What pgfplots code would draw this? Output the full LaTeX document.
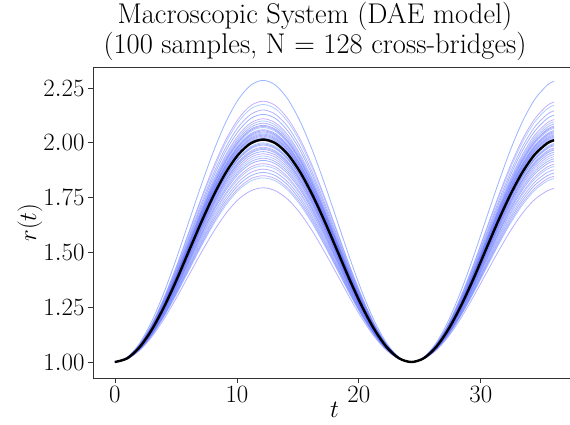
\documentclass[border=0pt]{standalone}
\usepackage{pgfplots}
\pgfplotsset{compat=1.18}
\usepackage{pgfplotstable}

\definecolor{cA}{rgb}{0.22,0.42,1.0}
\definecolor{cB}{rgb}{0.55,0.36,1.0}
\definecolor{cC}{rgb}{0.35,0.62,1.0}
\definecolor{cD}{rgb}{0.42,0.38,1.0}

\pgfplotstableread{
t c1 c2 c3 c4 c5 c6 c7 c8 c9 c10 c11 c12 c13 c14 c15 c16 c17 c18 c19 c20 c21 c22 c23 c24 c25 c26 c27 c28 c29 c30 c31 c32 c33 c34 c35 c36 c37 c38 c39 c40 m
0 1 1 1 1 1 1 1 1 1 1 1 1 1 1 1 1 1 1 1 1 1 1 1 1 1 1 1 1 1 1 1 1 1 1 1 1 1 1 1 1 1
1.0125 1.022 1.020 1.020 1.020 1.019 1.019 1.019 1.019 1.018 1.018 1.018 1.018 1.018 1.018 1.018 1.018 1.018 1.018 1.017 1.017 1.017 1.017 1.017 1.017 1.017 1.017 1.017 1.017 1.016 1.016 1.016 1.016 1.016 1.015 1.015 1.015 1.015 1.014 1.014 1.014 1.017
2.025 1.086 1.080 1.079 1.077 1.076 1.074 1.074 1.073 1.072 1.072 1.072 1.071 1.071 1.070 1.070 1.070 1.069 1.069 1.069 1.068 1.068 1.068 1.067 1.067 1.066 1.066 1.065 1.065 1.064 1.064 1.063 1.062 1.062 1.061 1.060 1.059 1.058 1.057 1.056 1.053 1.068
3.0375 1.188 1.174 1.172 1.168 1.165 1.163 1.161 1.160 1.158 1.157 1.157 1.155 1.155 1.154 1.153 1.152 1.152 1.151 1.150 1.149 1.149 1.148 1.146 1.146 1.145 1.144 1.143 1.142 1.141 1.139 1.138 1.136 1.135 1.133 1.131 1.129 1.127 1.124 1.123 1.116 1.149
4.05 1.321 1.298 1.294 1.288 1.283 1.278 1.275 1.273 1.270 1.269 1.268 1.265 1.264 1.263 1.261 1.260 1.259 1.258 1.256 1.255 1.254 1.253 1.250 1.249 1.248 1.245 1.244 1.243 1.240 1.238 1.235 1.233 1.230 1.226 1.224 1.220 1.216 1.213 1.210 1.199 1.254
5.0625 1.476 1.440 1.435 1.426 1.419 1.411 1.408 1.404 1.400 1.398 1.397 1.393 1.391 1.389 1.387 1.385 1.384 1.382 1.380 1.378 1.376 1.374 1.371 1.369 1.367 1.363 1.361 1.359 1.356 1.352 1.348 1.345 1.341 1.335 1.332 1.326 1.321 1.315 1.311 1.295 1.376
6.075 1.643 1.595 1.588 1.575 1.565 1.555 1.550 1.545 1.540 1.538 1.535 1.530 1.528 1.525 1.523 1.520 1.518 1.515 1.513 1.510 1.508 1.505 1.500 1.498 1.495 1.490 1.488 1.485 1.480 1.475 1.470 1.465 1.460 1.453 1.448 1.440 1.433 1.425 1.420 1.398 1.508
7.0875 1.809 1.749 1.740 1.724 1.711 1.699 1.692 1.686 1.680 1.677 1.673 1.667 1.664 1.661 1.658 1.655 1.651 1.648 1.645 1.642 1.639 1.636 1.629 1.626 1.623 1.617 1.614 1.611 1.604 1.598 1.592 1.585 1.579 1.570 1.563 1.554 1.544 1.535 1.529 1.500 1.639
8.1 1.964 1.893 1.881 1.863 1.848 1.833 1.825 1.818 1.810 1.806 1.803 1.795 1.791 1.788 1.784 1.780 1.776 1.773 1.769 1.765 1.761 1.758 1.750 1.746 1.743 1.735 1.731 1.728 1.720 1.713 1.705 1.698 1.690 1.679 1.671 1.660 1.649 1.638 1.630 1.596 1.761
9.1125 2.097 2.016 2.003 1.982 1.965 1.947 1.939 1.930 1.922 1.918 1.913 1.905 1.900 1.896 1.892 1.888 1.883 1.879 1.875 1.871 1.866 1.862 1.854 1.849 1.845 1.836 1.832 1.828 1.819 1.811 1.802 1.794 1.785 1.772 1.764 1.751 1.738 1.726 1.717 1.679 1.866
10.125 2.199 2.110 2.096 2.073 2.054 2.036 2.026 2.017 2.008 2.003 1.998 1.989 1.984 1.980 1.975 1.970 1.966 1.961 1.956 1.952 1.947 1.942 1.933 1.928 1.924 1.914 1.910 1.905 1.896 1.886 1.877 1.868 1.858 1.844 1.835 1.821 1.807 1.793 1.784 1.742 1.947
11.1375 2.263 2.170 2.155 2.130 2.111 2.091 2.081 2.071 2.062 2.057 2.052 2.042 2.037 2.032 2.027 2.022 2.017 2.012 2.008 2.003 1.998 1.993 1.983 1.978 1.973 1.963 1.958 1.953 1.944 1.934 1.924 1.914 1.904 1.890 1.880 1.865 1.850 1.836 1.826 1.781 1.998
12.15 2.285 2.190 2.175 2.150 2.130 2.110 2.100 2.090 2.080 2.075 2.070 2.060 2.055 2.050 2.045 2.040 2.035 2.030 2.025 2.020 2.015 2.010 2.000 1.995 1.990 1.980 1.975 1.970 1.960 1.950 1.940 1.930 1.920 1.905 1.895 1.880 1.865 1.850 1.840 1.795 2.015
13.1625 2.263 2.170 2.155 2.130 2.111 2.091 2.081 2.071 2.062 2.057 2.052 2.042 2.037 2.032 2.027 2.022 2.017 2.012 2.008 2.003 1.998 1.993 1.983 1.978 1.973 1.963 1.958 1.953 1.944 1.934 1.924 1.914 1.904 1.890 1.880 1.865 1.850 1.836 1.826 1.781 1.998
14.175 2.199 2.110 2.096 2.073 2.054 2.036 2.026 2.017 2.008 2.003 1.998 1.989 1.984 1.980 1.975 1.970 1.966 1.961 1.956 1.952 1.947 1.942 1.933 1.928 1.924 1.914 1.910 1.905 1.896 1.886 1.877 1.868 1.858 1.844 1.835 1.821 1.807 1.793 1.784 1.742 1.947
15.1875 2.097 2.016 2.003 1.982 1.965 1.947 1.939 1.930 1.922 1.918 1.913 1.905 1.900 1.896 1.892 1.888 1.883 1.879 1.875 1.871 1.866 1.862 1.854 1.849 1.845 1.836 1.832 1.828 1.819 1.811 1.802 1.794 1.785 1.772 1.764 1.751 1.738 1.726 1.717 1.679 1.866
16.2 1.964 1.893 1.881 1.863 1.848 1.833 1.825 1.818 1.810 1.806 1.803 1.795 1.791 1.788 1.784 1.780 1.776 1.773 1.769 1.765 1.761 1.758 1.750 1.746 1.743 1.735 1.731 1.728 1.720 1.713 1.705 1.698 1.690 1.679 1.671 1.660 1.649 1.638 1.630 1.596 1.761
17.2125 1.809 1.749 1.740 1.724 1.711 1.699 1.692 1.686 1.680 1.677 1.673 1.667 1.664 1.661 1.658 1.655 1.651 1.648 1.645 1.642 1.639 1.636 1.629 1.626 1.623 1.617 1.614 1.611 1.604 1.598 1.592 1.585 1.579 1.570 1.563 1.554 1.544 1.535 1.529 1.500 1.639
18.225 1.643 1.595 1.588 1.575 1.565 1.555 1.550 1.545 1.540 1.538 1.535 1.530 1.528 1.525 1.523 1.520 1.518 1.515 1.513 1.510 1.508 1.505 1.500 1.498 1.495 1.490 1.488 1.485 1.480 1.475 1.470 1.465 1.460 1.453 1.448 1.440 1.433 1.425 1.420 1.398 1.508
19.2375 1.476 1.440 1.435 1.426 1.419 1.411 1.408 1.404 1.400 1.398 1.397 1.393 1.391 1.389 1.387 1.385 1.384 1.382 1.380 1.378 1.376 1.374 1.371 1.369 1.367 1.363 1.361 1.359 1.356 1.352 1.348 1.345 1.341 1.335 1.332 1.326 1.321 1.315 1.311 1.295 1.376
20.25 1.321 1.298 1.294 1.288 1.283 1.278 1.275 1.273 1.270 1.269 1.268 1.265 1.264 1.263 1.261 1.260 1.259 1.258 1.256 1.255 1.254 1.253 1.250 1.249 1.248 1.245 1.244 1.243 1.240 1.238 1.235 1.233 1.230 1.226 1.224 1.220 1.216 1.213 1.210 1.199 1.254
21.2625 1.188 1.174 1.172 1.168 1.165 1.163 1.161 1.160 1.158 1.157 1.157 1.155 1.155 1.154 1.153 1.152 1.152 1.151 1.150 1.149 1.149 1.148 1.146 1.146 1.145 1.144 1.143 1.142 1.141 1.139 1.138 1.136 1.135 1.133 1.131 1.129 1.127 1.124 1.123 1.116 1.149
22.275 1.086 1.080 1.079 1.077 1.076 1.074 1.074 1.073 1.072 1.072 1.072 1.071 1.071 1.070 1.070 1.070 1.069 1.069 1.069 1.068 1.068 1.068 1.067 1.067 1.066 1.066 1.065 1.065 1.064 1.064 1.063 1.062 1.062 1.061 1.060 1.059 1.058 1.057 1.056 1.053 1.068
23.2875 1.022 1.020 1.020 1.020 1.019 1.019 1.019 1.019 1.018 1.018 1.018 1.018 1.018 1.018 1.018 1.018 1.018 1.018 1.017 1.017 1.017 1.017 1.017 1.017 1.017 1.017 1.017 1.017 1.016 1.016 1.016 1.016 1.016 1.015 1.015 1.015 1.015 1.014 1.014 1.014 1.017
24.3 1 1 1 1 1 1 1 1 1 1 1 1 1 1 1 1 1 1 1 1 1 1 1 1 1 1 1 1 1 1 1 1 1 1 1 1 1 1 1 1 1
25.3125 1.022 1.020 1.020 1.020 1.019 1.019 1.019 1.019 1.018 1.018 1.018 1.018 1.018 1.018 1.018 1.018 1.018 1.018 1.017 1.017 1.017 1.017 1.017 1.017 1.017 1.017 1.017 1.017 1.016 1.016 1.016 1.016 1.016 1.015 1.015 1.015 1.015 1.014 1.014 1.014 1.017
26.325 1.086 1.080 1.079 1.077 1.076 1.074 1.074 1.073 1.072 1.072 1.072 1.071 1.071 1.070 1.070 1.070 1.069 1.069 1.069 1.068 1.068 1.068 1.067 1.067 1.066 1.066 1.065 1.065 1.064 1.064 1.063 1.062 1.062 1.061 1.060 1.059 1.058 1.057 1.056 1.053 1.068
27.3375 1.188 1.174 1.172 1.168 1.165 1.163 1.161 1.160 1.158 1.157 1.157 1.155 1.155 1.154 1.153 1.152 1.152 1.151 1.150 1.149 1.149 1.148 1.146 1.146 1.145 1.144 1.143 1.142 1.141 1.139 1.138 1.136 1.135 1.133 1.131 1.129 1.127 1.124 1.123 1.116 1.149
28.35 1.321 1.298 1.294 1.288 1.283 1.278 1.275 1.273 1.270 1.269 1.268 1.265 1.264 1.263 1.261 1.260 1.259 1.258 1.256 1.255 1.254 1.253 1.250 1.249 1.248 1.245 1.244 1.243 1.240 1.238 1.235 1.233 1.230 1.226 1.224 1.220 1.216 1.213 1.210 1.199 1.254
29.3625 1.476 1.440 1.435 1.426 1.419 1.411 1.408 1.404 1.400 1.398 1.397 1.393 1.391 1.389 1.387 1.385 1.384 1.382 1.380 1.378 1.376 1.374 1.371 1.369 1.367 1.363 1.361 1.359 1.356 1.352 1.348 1.345 1.341 1.335 1.332 1.326 1.321 1.315 1.311 1.295 1.376
30.375 1.643 1.595 1.588 1.575 1.565 1.555 1.550 1.545 1.540 1.538 1.535 1.530 1.528 1.525 1.523 1.520 1.518 1.515 1.513 1.510 1.508 1.505 1.500 1.498 1.495 1.490 1.488 1.485 1.480 1.475 1.470 1.465 1.460 1.453 1.448 1.440 1.433 1.425 1.420 1.398 1.508
31.3875 1.809 1.749 1.740 1.724 1.711 1.699 1.692 1.686 1.680 1.677 1.673 1.667 1.664 1.661 1.658 1.655 1.651 1.648 1.645 1.642 1.639 1.636 1.629 1.626 1.623 1.617 1.614 1.611 1.604 1.598 1.592 1.585 1.579 1.570 1.563 1.554 1.544 1.535 1.529 1.500 1.639
32.4 1.964 1.893 1.881 1.863 1.848 1.833 1.825 1.818 1.810 1.806 1.803 1.795 1.791 1.788 1.784 1.780 1.776 1.773 1.769 1.765 1.761 1.758 1.750 1.746 1.743 1.735 1.731 1.728 1.720 1.713 1.705 1.698 1.690 1.679 1.671 1.660 1.649 1.638 1.630 1.596 1.761
33.4125 2.097 2.016 2.003 1.982 1.965 1.947 1.939 1.930 1.922 1.918 1.913 1.905 1.900 1.896 1.892 1.888 1.883 1.879 1.875 1.871 1.866 1.862 1.854 1.849 1.845 1.836 1.832 1.828 1.819 1.811 1.802 1.794 1.785 1.772 1.764 1.751 1.738 1.726 1.717 1.679 1.866
34.425 2.199 2.110 2.096 2.073 2.054 2.036 2.026 2.017 2.008 2.003 1.998 1.989 1.984 1.980 1.975 1.970 1.966 1.961 1.956 1.952 1.947 1.942 1.933 1.928 1.924 1.914 1.910 1.905 1.896 1.886 1.877 1.868 1.858 1.844 1.835 1.821 1.807 1.793 1.784 1.742 1.947
35.4375 2.263 2.170 2.155 2.130 2.111 2.091 2.081 2.071 2.062 2.057 2.052 2.042 2.037 2.032 2.027 2.022 2.017 2.012 2.008 2.003 1.998 1.993 1.983 1.978 1.973 1.963 1.958 1.953 1.944 1.934 1.924 1.914 1.904 1.890 1.880 1.865 1.850 1.836 1.826 1.781 1.998
36 2.281 2.186 2.171 2.146 2.126 2.106 2.096 2.086 2.076 2.071 2.066 2.056 2.051 2.046 2.041 2.036 2.031 2.026 2.022 2.017 2.012 2.007 1.997 1.992 1.987 1.977 1.972 1.967 1.957 1.947 1.937 1.927 1.917 1.902 1.892 1.877 1.862 1.847 1.837 1.792 2.012
}\data

\begin{document}
\begin{tikzpicture}
\begin{axis}[
  name=ax,
  scale only axis,
  width=483pt, height=311pt,
  xmin=-1.8, xmax=37.8,
  ymin=0.927, ymax=2.346,
  xtick={0,10,20,30},
  ytick={1.00,1.25,1.50,1.75,2.00,2.25},
  yticklabel style={/pgf/number format/.cd, fixed, fixed zerofill, precision=2},
  ticklabel style={font=\fontsize{24}{24}\selectfont},
  tick align=outside,
  xtick pos=left, ytick pos=left,
  major tick length=5pt,
  tick style={black!80, line width=0.8pt},
  axis line style={black!80, line width=0.8pt},
  xlabel={$t$}, ylabel={$r(t)$},
  label style={font=\fontsize{27}{27}\selectfont},
  xlabel style={at={(axis description cs:0.5,-0.103)}, anchor=center},
  ylabel style={at={(axis description cs:-0.1304,0.5)}, anchor=center},
  title={Macroscopic System (DAE model)\\(100 samples, N = 128 cross-bridges)},
  title style={align=center, font=\fontsize{28.5}{30}\selectfont, at={(axis description cs:0.4596,1)}, anchor=south, inner sep=0pt, yshift=0.5pt},
  cycle list={{cA},{cB},{cC},{cD}},
]
\pgfplotsinvokeforeach{1,...,40}{
  \addplot+[no markers, smooth, line width=0.8pt, opacity=0.5] table[x=t, y=c#1] {\data};
}
\addplot[black, smooth, line width=2.4pt] table[x=t, y=m] {\data};
\end{axis}
\pgfresetboundingbox
\path[use as bounding box] ([xshift=-93pt,yshift=-47pt]ax.south west) rectangle ++(570pt,425pt);
\end{tikzpicture}
\end{document}
